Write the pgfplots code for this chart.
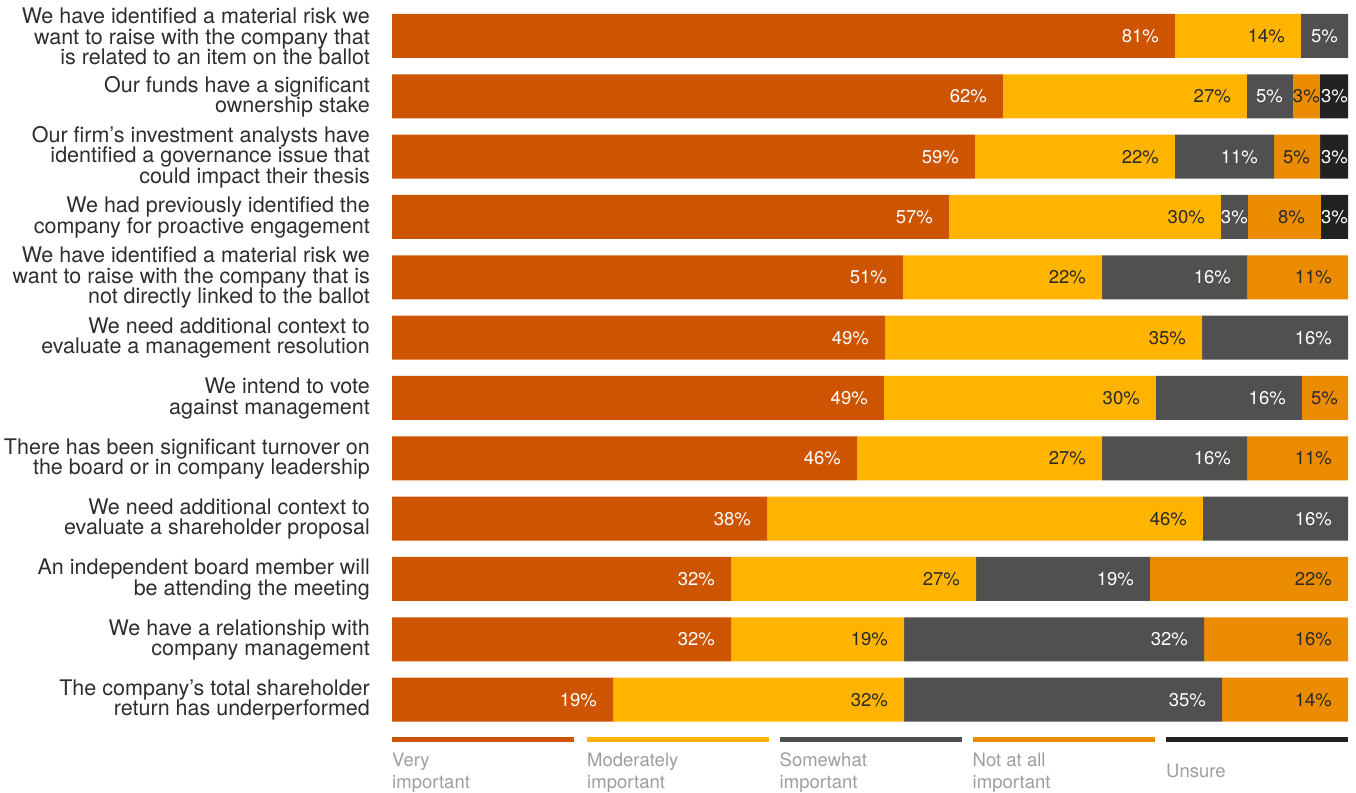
\documentclass[border=0pt]{standalone}
\usepackage{fontspec}
\setmainfont{TeX Gyre Heros}
\usepackage{pgfplots}
\usepackage{pgfplotstable}
\pgfplotsset{compat=1.18}
\definecolor{cVery}{HTML}{CD5400}
\definecolor{cMod}{HTML}{FFB400}
\definecolor{cSome}{HTML}{505050}
\definecolor{cNot}{HTML}{EB8B00}
\definecolor{cUns}{HTML}{222222}
\definecolor{labelgray}{HTML}{2E2E2E}
\definecolor{leggray}{HTML}{9E9E9E}
\definecolor{darktxt}{HTML}{2A2A2A}
\newcommand\catfont{\fontsize{21.5}{20.5}\selectfont}
\newcommand\barfont{\fontsize{18.5}{20}\selectfont}
\newcommand\legfont{\fontsize{18.5}{22}\selectfont}
\newcommand\mylbl[1]{\ifnum#1=0 \else#1\%\ifnum#1=3 \else\ifnum#1=5 \kern10pt\else\kern16pt\fi\fi\fi}
\pgfplotstableread{
y v vl m ml s sl n nl u ul
0 81.90 81 13.18 14 4.92 5 0 0 0 0
1 63.91 62 25.52 27 4.81 5 2.82 3 2.94 3
2 60.98 59 20.92 22 10.36 11 4.81 5 2.93 3
3 58.26 57 28.45 30 2.82 3 7.64 8 2.83 3
4 53.45 51 20.82 22 15.17 16 10.56 11 0 0
5 51.57 49 33.16 35 15.27 16 0 0 0 0
6 51.46 49 28.45 30 15.27 16 4.82 5 0 0
7 48.64 46 25.63 27 15.17 16 10.56 11 0 0
8 39.23 38 45.60 46 15.17 16 0 0 0 0
9 35.46 32 25.63 27 18.20 19 20.71 22 0 0
10 35.46 32 18.10 19 31.38 32 15.06 16 0 0
11 23.12 19 30.44 32 33.26 35 13.18 14 0 0
}\data
\begin{document}
\begin{tikzpicture}[x=1pt,y=1pt]
\path[use as bounding box] (0,0) rectangle (1356,792);
\begin{axis}[
  at={(392pt,62.2pt)}, anchor=south west,
  scale only axis, width=956pt, height=724pt,
  xbar stacked, bar width=44pt,
  xmin=0, xmax=100, ymin=-0.5, ymax=11.5, y dir=reverse,
  axis line style={draw=none}, tick style={draw=none},
  xtick=\empty, ytick={0,1,2,3,4,5,6,7,8,9,10,11},
  yticklabels={
    {We have identified a material risk we\\want to raise with the company that\\is related to an item on the ballot},
    {Our funds have a significant\\ownership stake},
    {Our firm’s investment analysts have\\identified a governance issue that\\could impact their thesis},
    {We had previously identified the\\company for proactive engagement},
    {We have identified a material risk we\\want to raise with the company that is\\not directly linked to the ballot},
    {We need additional context to\\evaluate a management resolution},
    {We intend to vote\\against management},
    {There has been significant turnover on\\the board or in company leadership},
    {We need additional context to\\evaluate a shareholder proposal},
    {An independent board member will\\be attending the meeting},
    {We have a relationship with\\company management},
    {The company’s total shareholder\\return has underperformed}},
  yticklabel style={align=right, font=\catfont, text=labelgray, inner sep=0pt, xshift=-22pt, yshift=-0.5pt},
  point meta=explicit symbolic,
  visualization depends on={rawx \as \rawx},
  nodes near coords={\mylbl{\pgfplotspointmeta}},
  every node near coord/.append style={anchor=east, inner sep=0pt, font=\barfont, xshift={\rawx*4.78pt}},
  clip=false,
]
\addplot[fill=cVery, draw=none, every node near coord/.append style={text=white}] table[x=v, y=y, meta=vl] {\data};
\addplot[fill=cMod, draw=none, every node near coord/.append style={text=darktxt}] table[x=m, y=y, meta=ml] {\data};
\addplot[fill=cSome, draw=none, every node near coord/.append style={text=white}] table[x=s, y=y, meta=sl] {\data};
\addplot[fill=cNot, draw=none, every node near coord/.append style={text=darktxt}] table[x=n, y=y, meta=nl] {\data};
\addplot[fill=cUns, draw=none, every node near coord/.append style={text=white}] table[x=u, y=y, meta=ul] {\data};
\end{axis}
\foreach \x/\c/\t/\yy in {392/cVery/{Very\\important}/19.5, 587/cMod/{Moderately\\important}/19.5, 779.5/cSome/{Somewhat\\important}/19.5, 972.5/cNot/{Not at all\\important}/19.5, 1166/cUns/{Unsure}/21.5}{
  \fill[\c] (\x,50.5) rectangle ++(182,5);
  \node[anchor=west, align=left, inner sep=0pt, font=\legfont, text=leggray] at (\x,\yy) {\t};
}
\end{tikzpicture}
\end{document}
